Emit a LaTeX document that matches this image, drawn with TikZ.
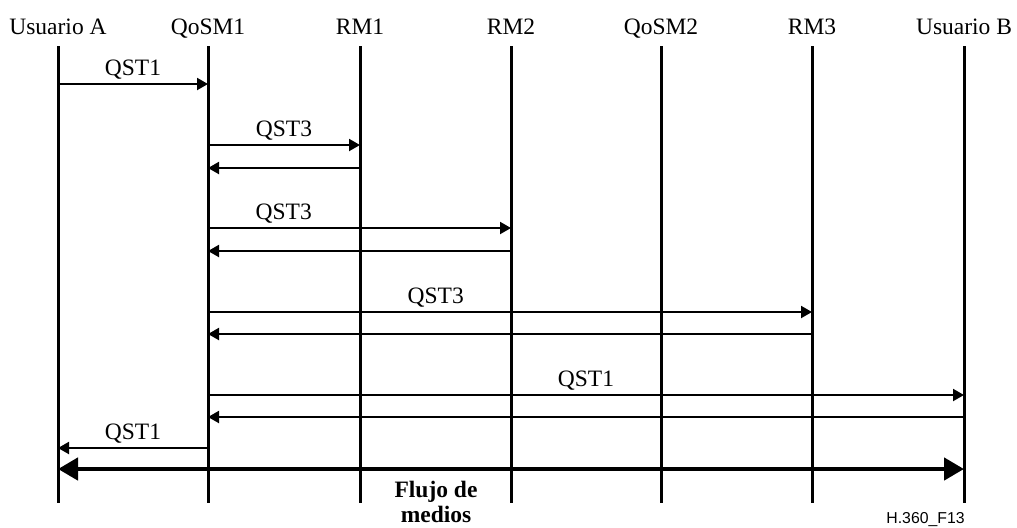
\documentclass[tikz,border=0pt]{standalone}
\usepackage{fontspec}
\setmainfont{Liberation Serif}
\newfontfamily\figsans{Liberation Sans}
\usetikzlibrary{positioning,arrows.meta}

\tikzset{
  entity/.style={inner sep=0pt,text height=8.5pt,text depth=2.5pt,font=\fontsize{11.75}{14}\selectfont},
  lifeline/.style={line width=1.5pt},
  msg/.style={line width=1pt,-{Triangle[length=5.5pt,width=6pt]}},
  flow/.style={line width=2.25pt,{Triangle[length=10pt,width=11pt]}-{Triangle[length=10pt,width=11pt]}},
  lbl/.style={anchor=base,yshift=4.5pt,inner sep=0pt,font=\fontsize{11.75}{14}\selectfont}
}

\begin{document}
\begin{tikzpicture}[x=0.5pt,y=-0.5pt,on grid]
  \useasboundingbox (0,0) rectangle (1017,527);
  % entities
  \node (ua) [entity,anchor=base] at (58,34) {Usuario A};
  \node (qosm1) [entity] [right=75pt of ua] {QoSM1};
  \node (rm1) [entity] [right=76pt of qosm1] {RM1};
  \node (rm2) [entity] [right=75.5pt of rm1] {RM2};
  \node (qosm2) [entity] [right=75pt of rm2] {QoSM2};
  \node (rm3) [entity] [right=75.5pt of qosm2] {RM3};
  \node (ub) [entity] [right=76pt of rm3] {Usuario B};
  % lifelines
  \foreach \e in {ua,qosm1,rm1,rm2,qosm2,rm3,ub}
    \draw [lifeline] (\e.base |- 0,46) -- (\e.base |- 0,503);
  % messages
  \draw [msg] (ua.base |- 0,84) -- node[lbl]{QST1} (qosm1.base |- 0,84);
  \draw [msg] (qosm1.base |- 0,145) -- node[lbl]{QST3} (rm1.base |- 0,145);
  \draw [msg] (rm1.base |- 0,168) -- (qosm1.base |- 0,168);
  \draw [msg] (qosm1.base |- 0,228) -- node[lbl,pos=0.25]{QST3} (rm2.base |- 0,228);
  \draw [msg] (rm2.base |- 0,251) -- (qosm1.base |- 0,251);
  \draw [msg] (qosm1.base |- 0,312) -- node[lbl,pos=0.377]{QST3} (rm3.base |- 0,312);
  \draw [msg] (rm3.base |- 0,334) -- (qosm1.base |- 0,334);
  \draw [msg] (qosm1.base |- 0,395) -- node[lbl]{QST1} (ub.base |- 0,395);
  \draw [msg] (ub.base |- 0,417) -- (qosm1.base |- 0,417);
  \draw [msg] (qosm1.base |- 0,448) -- node[lbl]{QST1} (ua.base |- 0,448);
  % media flow
  \draw [flow] (ua.base |- 0,469) -- (ub.base |- 0,469);
  \node (media) [anchor=north,align=center,inner sep=0pt,font=\fontsize{11.75}{12.5}\selectfont\bfseries] at (436,481) {Flujo de\\medios};
  \node (figno) [anchor=base east,inner sep=0pt,font=\figsans\fontsize{7.9}{9}\selectfont] at (965,523) {H.360\_F13};
\end{tikzpicture}
\end{document}
